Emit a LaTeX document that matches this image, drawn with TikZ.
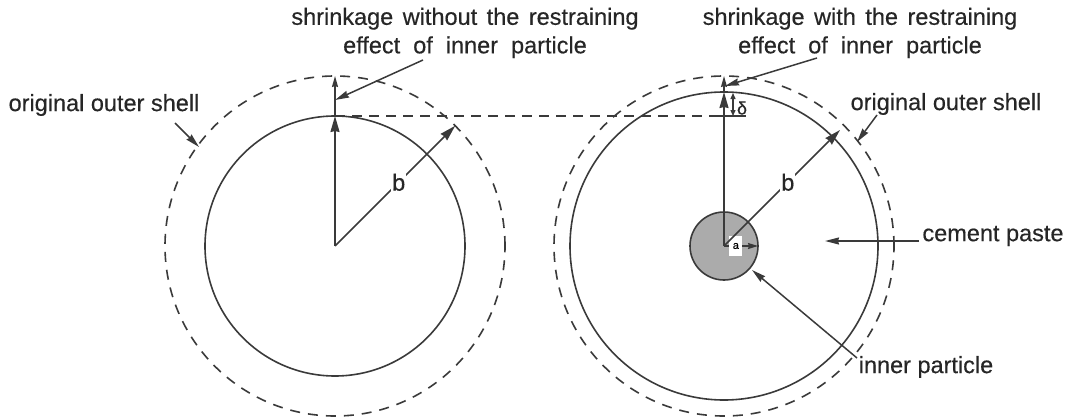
\documentclass[tikz,border=0pt]{standalone}
\usepackage{fontspec}
\setmainfont[FakeBold=0.4]{Liberation Sans}
\usetikzlibrary{arrows.meta}
\definecolor{inkgray}{HTML}{3A3A3A}
\definecolor{particlegray}{HTML}{ABABAB}
\begin{document}
\begin{tikzpicture}[
        x=1pt, y=-1pt,
        shell/.style={circle, draw=inkgray, line width=1.6pt, inner sep=0pt, outer sep=0pt},
        old_shell/.style={shell, dash pattern=on 10pt off 8pt},
        particle/.style={shell, fill=particlegray},
        label_text/.style={text=black!85, font=\fontsize{23.5}{28.5}\selectfont, align=center, inner sep=0pt},
        radius_line/.style={draw=inkgray, line width=1.6pt, -{Stealth[length=16pt,width=9pt,inset=1pt]}},
        short_line/.style={draw=inkgray, line width=1.6pt, -{Stealth[length=11pt,width=6pt,inset=1pt]}},
        leader/.style={draw=inkgray, line width=1.5pt, -{Stealth[length=14pt,width=7pt,inset=1pt]}},
        guide_line/.style={draw=inkgray, line width=1.4pt, dash pattern=on 10pt off 7pt}
    ]
    \useasboundingbox (0,0) rectangle (1068,420);

    % Kruhy vlevo
    \node[old_shell, minimum size=340pt] (outerL) at (335,246) {};
    \node[shell, minimum size=260pt] (innerL) at (335,246) {};

    % Kruhy vpravo
    \node[old_shell, minimum size=340pt] (outerR) at (724,246) {};
    \node[shell, minimum size=308pt] (innerR) at (724,246) {};
    \node[particle, minimum size=68pt] (core) at (724,246) {};

    % Popisky
    \node[label_text] (shrinkL) at (465,33) {\spaceskip=9.5pt shrinkage without the restraining\\\spaceskip=13pt effect of inner particle};
    \node[label_text] (shrinkR) at (860,33) {\spaceskip=9.5pt shrinkage with the restraining\\\spaceskip=13pt effect of inner particle};
    \node[label_text] (originalL) at (104,105) {original outer shell};
    \node[label_text] (originalR) at (946,104) {original outer shell};
    \node[label_text] (paste) at (993,236) {cement paste};
    \node[label_text] (innerlabel) at (926,367) {inner particle};

    % Volne konce car
    \coordinate (tipL) at (335,100);
    \coordinate (startL) at (423,60);
    \coordinate (tipR) at (725,86);
    \coordinate (startR) at (817,58);
    \coordinate (tipOrigL) at (199,147);
    \coordinate (startOrigL) at (175,123);
    \coordinate (tipOrigR) at (857,142);
    \coordinate (startOrigR) at (877,115);
    \coordinate (tipPaste) at (825,241);
    \coordinate (startPaste) at (919,241);
    \coordinate (tipCore) at (752,270);
    \coordinate (startCore) at (857,358);
    \coordinate (tipB) at (840,130);
    \coordinate (guideStart) at (710,116);
    \coordinate (guideEnd) at (746,116);
    \coordinate (deltaHigh) at (733,93);
    \coordinate (deltaLow) at (733,116);

    % Polomery vlevo
    \draw[radius_line] (innerL.center) -- (innerL.north);
    \draw[short_line] (innerL.north) -- (outerL.north);
    \draw[radius_line] (innerL.center) -- (outerL.north east) node[pos=0.53, label_text, fill=white, inner sep=1pt] (bL) {b};

    % Polomery vpravo
    \draw[radius_line] (innerR.center) -- (innerR.north);
    \draw[short_line] (innerR.north) -- (outerR.north);
    \draw[short_line, -{Stealth[length=10pt,width=6pt,inset=1pt]}] (core.center) -- (core.east) node[pos=0.35, fill=white, inner sep=0pt, minimum width=13pt, minimum height=20pt, font=\fontsize{11}{11}\selectfont] (aR) {a};
    \draw[radius_line] (core.center) -- (tipB) node[pos=0.55, label_text, fill=white, inner sep=1pt] (bR) {b};

    % Vodici cara a delta
    \draw[guide_line] (innerL.north) -- (guideStart);
    \draw[draw=inkgray, line width=1.4pt] (guideStart) -- (guideEnd);
    \draw[draw=inkgray, line width=1.3pt, {Stealth[length=6pt,width=5pt,inset=0pt]}-{Stealth[length=6pt,width=5pt,inset=0pt]}] (deltaLow) -- (deltaHigh);
    \node[label_text, font=\fontsize{18}{18}\selectfont] (deltaR) at (742,108) {δ};

    % Odkazy
    \draw[leader] (startL) -- (tipL);
    \draw[leader] (startR) -- (tipR);
    \draw[leader] (startOrigL) -- (tipOrigL);
    \draw[leader] (startOrigR) -- (tipOrigR);
    \draw[leader] (startPaste) -- (tipPaste);
    \draw[leader] (startCore) -- (tipCore);

\end{tikzpicture}
\end{document}
